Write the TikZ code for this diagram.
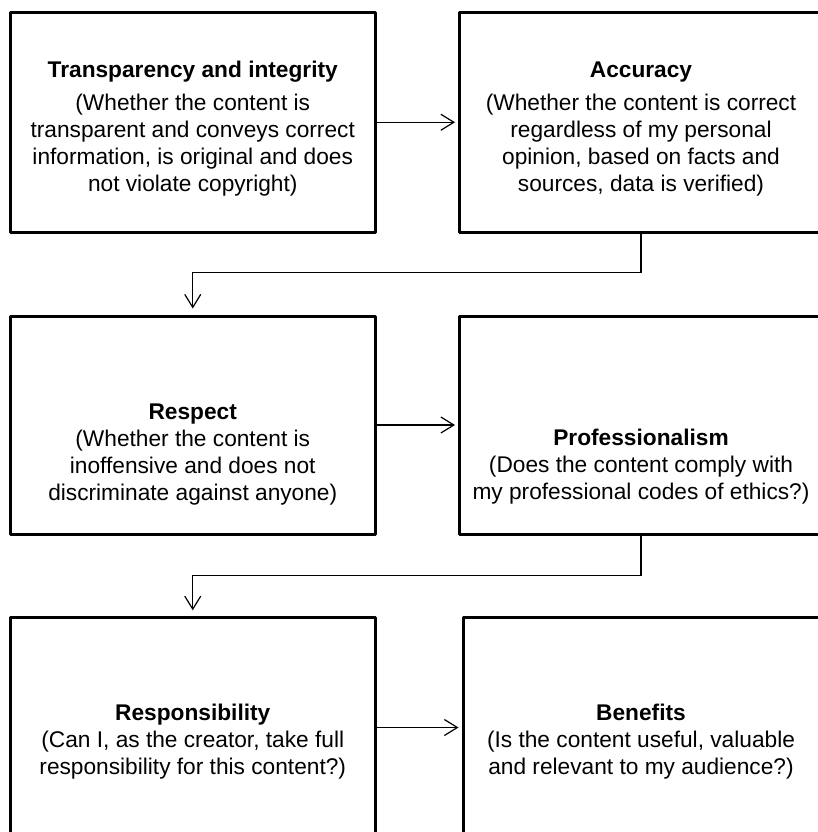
\documentclass[tikz,border=0pt]{standalone}
\usepackage{fontspec}
\setmainfont{Liberation Sans}
\usetikzlibrary{arrows.meta}
\begin{document}
\begin{tikzpicture}[x=1pt,y=-1pt,
  box/.style={draw, line width=3pt, line join=round, minimum width=364.5pt, minimum height=219.5pt, inner sep=0pt},
  lbl/.style={anchor=base, inner sep=0pt, font=\fontsize{22.7}{27}\selectfont},
  conn/.style={line width=1.2pt, -{Straight Barb[length=13pt,width=16pt]}}]
\useasboundingbox (0,0) rectangle (817,832);
\node[box] (b1) at (192.75,122.25) {};
\node[box, minimum width=363pt] (b2) at (641,122.25) {};
\node[box, minimum height=218pt] (b3) at (192.75,425) {};
\node[box, minimum width=363pt, minimum height=218pt] (b4) at (641,425) {};
\node[box] (b5) at (192.75,727.5) {};
\node[box, minimum width=356pt] (b6) at (641,727.5) {};

\node[lbl] (t1) at (192.75,78) {\begin{tabular}[t]{@{}c@{}}\textbf{Transparency and integrity}\\[6pt]
(Whether the content is\\ transparent and conveys correct\\ information, is original and does\\ not violate copyright)\end{tabular}};
\node[lbl] (t2) at (641,78) {\begin{tabular}[t]{@{}c@{}}\textbf{Accuracy}\\[6pt]
(Whether the content is correct\\ regardless of my personal\\ opinion, based on facts and\\ sources, data is verified)\end{tabular}};
\node[lbl] (t3) at (192.75,419) {\begin{tabular}[t]{@{}c@{}}\textbf{Respect}\\
(Whether the content is\\ inoffensive and does not\\ discriminate against anyone)\end{tabular}};
\node[lbl] (t4) at (641,445) {\begin{tabular}[t]{@{}c@{}}\textbf{Professionalism}\\
(Does the content comply with\\ my professional codes of ethics?)\end{tabular}};
\node[lbl] (t5) at (192.75,720) {\begin{tabular}[t]{@{}c@{}}\textbf{Responsibility}\\
(Can I, as the creator, take full\\ responsibility for this content?)\end{tabular}};
\node[lbl] (t6) at (641,720) {\begin{tabular}[t]{@{}c@{}}\textbf{Benefits}\\
(Is the content useful, valuable\\ and relevant to my audience?)\end{tabular}};

\draw[conn, shorten >=3pt] (b1.east) -- (b2.west);
\draw[conn, shorten >=3pt] (b3.east) -- (b4.west);
\draw[conn, shorten >=3pt] (b5.east) -- (b5.east -| b6.west);
\draw[conn, shorten >=6pt] (b2.south) -- ++(0,39.2) -| (b3.north);
\draw[conn, shorten >=6pt] (b4.south) -- ++(0,40.2) -| (b5.north);
\end{tikzpicture}
\end{document}
